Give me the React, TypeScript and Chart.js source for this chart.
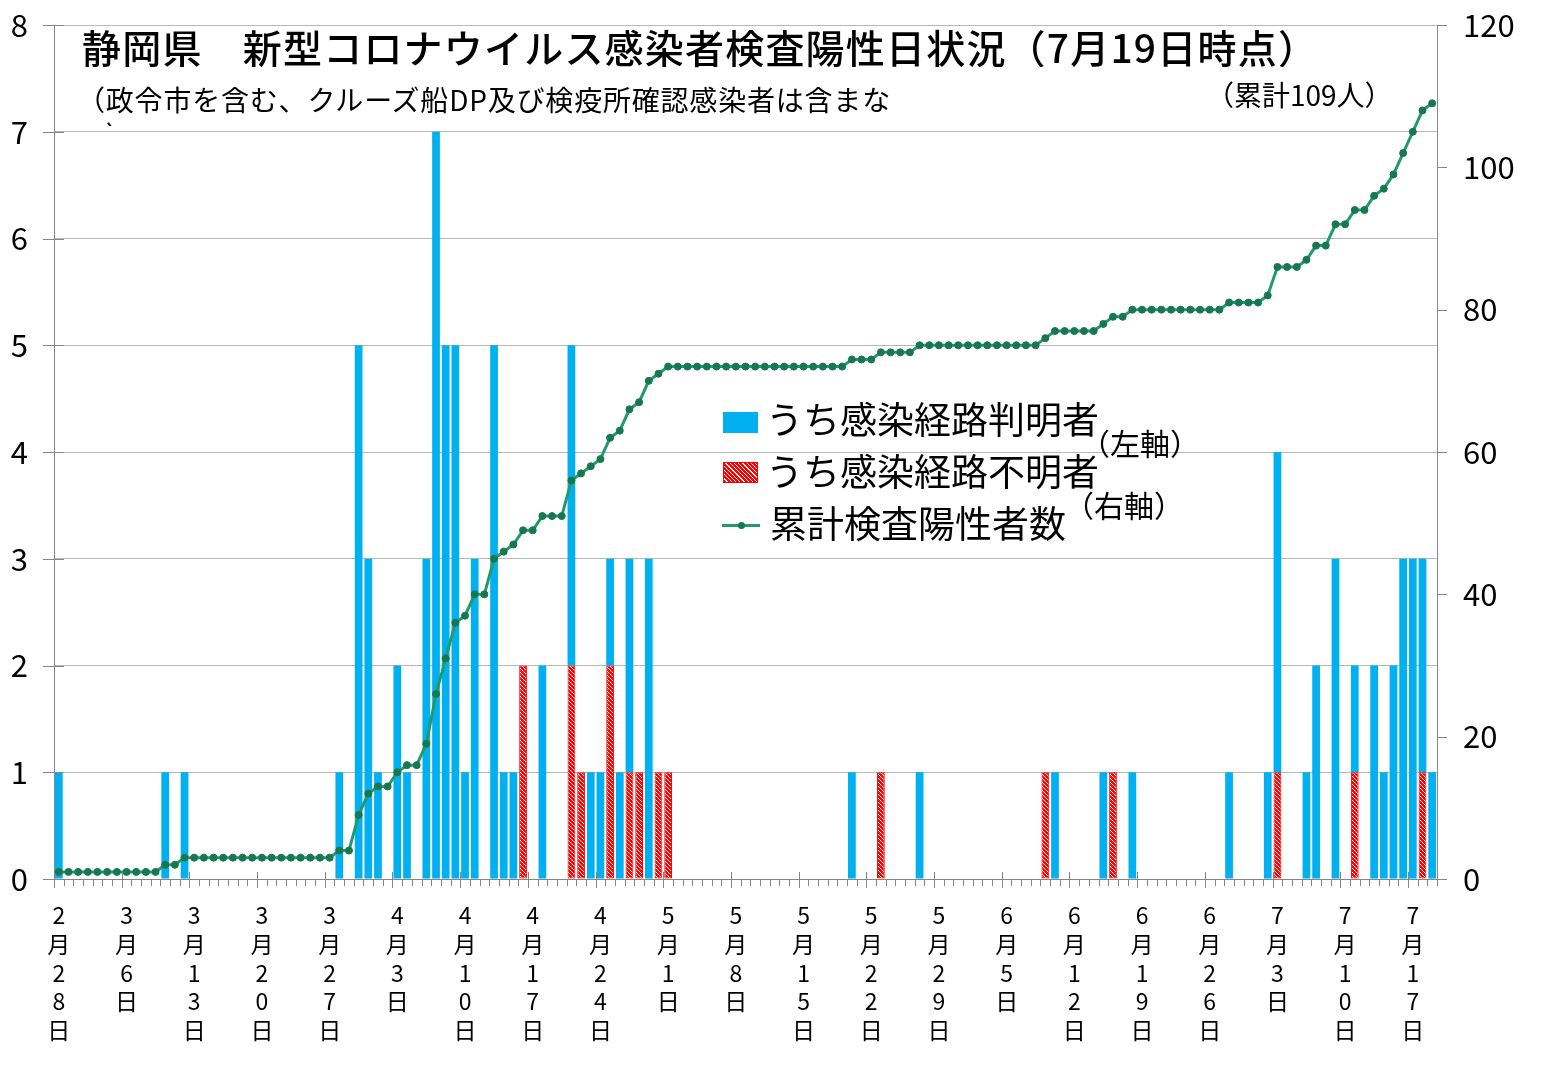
import { useEffect, useRef } from "react"
import Chart from "chart.js/auto"

// 日別陽性者数（月ごと、左軸）
const febKnown = [1, 0]
const febUnknown = [0, 0]
const marKnown = [0, 0, 0, 0, 0, 0, 0, 0, 0, 1, 0, 1, 0, 0, 0, 0, 0, 0, 0, 0, 0, 0, 0, 0, 0, 0, 0, 1, 0, 5, 3]
const marUnknown = [0, 0, 0, 0, 0, 0, 0, 0, 0, 0, 0, 0, 0, 0, 0, 0, 0, 0, 0, 0, 0, 0, 0, 0, 0, 0, 0, 0, 0, 0, 0]
const aprKnown = [1, 0, 2, 1, 0, 3, 7, 5, 5, 1, 3, 0, 5, 1, 1, 0, 0, 2, 0, 0, 3, 0, 1, 1, 1, 1, 2, 0, 3, 0]
const aprUnknown = [0, 0, 0, 0, 0, 0, 0, 0, 0, 0, 0, 0, 0, 0, 0, 2, 0, 0, 0, 0, 2, 1, 0, 0, 2, 0, 1, 1, 0, 1]
const mayKnown = [0, 0, 0, 0, 0, 0, 0, 0, 0, 0, 0, 0, 0, 0, 0, 0, 0, 0, 0, 1, 0, 0, 0, 0, 0, 0, 1, 0, 0, 0, 0]
const mayUnknown = [1, 0, 0, 0, 0, 0, 0, 0, 0, 0, 0, 0, 0, 0, 0, 0, 0, 0, 0, 0, 0, 0, 1, 0, 0, 0, 0, 0, 0, 0, 0]
const junKnown = [0, 0, 0, 0, 0, 0, 0, 0, 0, 1, 0, 0, 0, 0, 1, 0, 0, 1, 0, 0, 0, 0, 0, 0, 0, 0, 0, 1, 0, 0]
const junUnknown = [0, 0, 0, 0, 0, 0, 0, 0, 1, 0, 0, 0, 0, 0, 0, 1, 0, 0, 0, 0, 0, 0, 0, 0, 0, 0, 0, 0, 0, 0]
const julKnown = [0, 1, 3, 0, 0, 1, 2, 0, 3, 0, 1, 0, 2, 1, 2, 3, 3, 2, 1]
const julUnknown = [0, 0, 1, 0, 0, 0, 0, 0, 0, 0, 1, 0, 0, 0, 0, 0, 0, 1, 0]

// 累計検査陽性者数（右軸）
const febTotal = [1, 1]
const marTotal = [1, 1, 1, 1, 1, 1, 1, 1, 1, 2, 2, 3, 3, 3, 3, 3, 3, 3, 3, 3, 3, 3, 3, 3, 3, 3, 3, 4, 4, 9, 12]
const aprTotal = [13, 13, 15, 16, 16, 19, 26, 31, 36, 37, 40, 40, 45, 46, 47, 49, 49, 51, 51, 51, 56, 57, 58, 59, 62, 63, 66, 67, 70, 71]
const mayTotal = [72, 72, 72, 72, 72, 72, 72, 72, 72, 72, 72, 72, 72, 72, 72, 72, 72, 72, 72, 73, 73, 73, 74, 74, 74, 74, 75, 75, 75, 75, 75]
const junTotal = [75, 75, 75, 75, 75, 75, 75, 75, 76, 77, 77, 77, 77, 77, 78, 79, 79, 80, 80, 80, 80, 80, 80, 80, 80, 80, 80, 81, 81, 81]
const julTotal = [81, 82, 86, 86, 86, 87, 89, 89, 92, 92, 94, 94, 96, 97, 99, 102, 105, 108, 109]

// [月, 初日, 末日]
const monthRanges = [
  [2, 28, 29],
  [3, 1, 31],
  [4, 1, 30],
  [5, 1, 31],
  [6, 1, 30],
  [7, 1, 19],
]

const tickDates = [
  "2月28日", "3月6日", "3月13日", "3月20日", "3月27日", "4月3日", "4月10日",
  "4月17日", "4月24日", "5月1日", "5月8日", "5月15日", "5月22日", "5月29日",
  "6月5日", "6月12日", "6月19日", "6月26日", "7月3日", "7月10日", "7月17日",
]

const categories = monthRanges.flatMap(([m, from, to]) => {
  const days: string[] = []
  for (let d = from; d <= to; d++) days.push(`${m}月${d}日`)
  return days
})

const known = [...febKnown, ...marKnown, ...aprKnown, ...mayKnown, ...junKnown, ...julKnown]
const unknown = [...febUnknown, ...marUnknown, ...aprUnknown, ...mayUnknown, ...junUnknown, ...julUnknown]
const total = [...febTotal, ...marTotal, ...aprTotal, ...mayTotal, ...junTotal, ...julTotal]

const BLUE = "#00b0f0"
const RED = "#ff0000"
const LINE = "#229a6b"
const MARKER = "#17774f"
const AXIS = "#868686"
const GRID = "#b8b8b8"
const FONT = "'Noto Sans CJK JP', 'Noto Sans', sans-serif"

const W = 1568
const H = 1075
const PLOT = { left: 54, right: 1437, top: 25, bottom: 879 }

function makeHatch() {
  const c = document.createElement("canvas")
  c.width = 4
  c.height = 4
  const g = c.getContext("2d")!
  g.fillStyle = RED
  g.fillRect(0, 0, 4, 4)
  g.strokeStyle = "#ffffff"
  g.lineWidth = 1
  g.beginPath()
  g.moveTo(0, 0)
  g.lineTo(4, 4)
  g.moveTo(-1, 3)
  g.lineTo(1, 5)
  g.moveTo(3, -1)
  g.lineTo(5, 1)
  g.stroke()
  return g.createPattern(c, "repeat")!
}

// 目盛り線（日ごとの短い線・週ごとの長い線・左右軸の線）
const tickMarks = {
  id: "tickMarks",
  afterDraw(chart: any) {
    const { ctx, chartArea, scales } = chart
    const x = scales.x
    const n = categories.length
    const step = (x.right - x.left) / n
    ctx.save()
    ctx.strokeStyle = AXIS
    ctx.lineWidth = 1
    ctx.beginPath()
    for (let i = 0; i <= n; i++) {
      const px = Math.round(x.left + i * step) + 0.5
      const major = i < n && tickDates.includes(categories[i])
      ctx.moveTo(px, chartArea.bottom - (major ? 7 : 0))
      ctx.lineTo(px, chartArea.bottom + (major ? 9 : 7))
    }
    scales.y.ticks.forEach((_: unknown, i: number) => {
      const py = Math.round(scales.y.getPixelForTick(i)) + 0.5
      ctx.moveTo(chartArea.left - 11, py)
      ctx.lineTo(chartArea.left + 10, py)
    })
    scales.y1.ticks.forEach((_: unknown, i: number) => {
      const py = Math.round(scales.y1.getPixelForTick(i)) + 0.5
      ctx.moveTo(chartArea.right, py)
      ctx.lineTo(chartArea.right + 10, py)
    })
    ctx.stroke()
    ctx.restore()
  },
}

function Label({ x, cy, size, weight, children, style }: any) {
  return (
    <div
      style={{
        position: "absolute",
        left: x,
        top: cy - size * 0.55,
        fontSize: size,
        lineHeight: 1,
        fontFamily: FONT,
        fontWeight: weight || "normal",
        whiteSpace: "nowrap",
        color: "#000",
        ...style,
      }}
    >
      {children}
    </div>
  )
}

export default function App() {
  const chartRef = useRef<HTMLCanvasElement>(null)
  const chartInstance = useRef<Chart | null>(null)

  useEffect(() => {
    document.body.style.margin = "0"
    if (!chartRef.current) return
    if (chartInstance.current) chartInstance.current.destroy()
    const ctx = chartRef.current.getContext("2d")
    if (!ctx) return

    chartInstance.current = new Chart(ctx, {
      type: "bar",
      data: {
        labels: categories,
        datasets: [
          {
            type: "line",
            label: "累計検査陽性者数",
            data: total,
            yAxisID: "y1",
            borderColor: LINE,
            borderWidth: 3,
            pointRadius: 3.5,
            pointBackgroundColor: MARKER,
            pointBorderColor: MARKER,
            pointBorderWidth: 1,
            tension: 0,
            order: 0,
          },
          {
            label: "うち感染経路不明者",
            data: unknown,
            yAxisID: "y",
            backgroundColor: makeHatch(),
            borderColor: RED,
            borderWidth: 1,
            borderSkipped: false,
            barPercentage: 0.8,
            categoryPercentage: 1,
            order: 1,
          },
          {
            label: "うち感染経路判明者",
            data: known,
            yAxisID: "y",
            backgroundColor: BLUE,
            borderWidth: 0,
            barPercentage: 0.8,
            categoryPercentage: 1,
            order: 2,
          },
        ],
      } as any,
      options: {
        responsive: true,
        maintainAspectRatio: false,
        animation: false,
        layout: { padding: { top: PLOT.top, left: 0, right: 0, bottom: 0 } },
        plugins: {
          legend: { display: false },
          tooltip: { enabled: false },
        },
        scales: {
          x: {
            stacked: true,
            offset: true,
            grid: { display: false },
            border: { color: AXIS },
            afterFit: (scale: any) => {
              scale.height = H - PLOT.bottom
            },
            ticks: {
              autoSkip: false,
              maxRotation: 0,
              minRotation: 0,
              padding: 14,
              color: "#000",
              font: { family: FONT, size: 23, lineHeight: 1.25 },
              callback: (_v: any, i: number) =>
                tickDates.includes(categories[i]) ? categories[i].split("") : "",
            },
          },
          y: {
            stacked: true,
            position: "left",
            min: 0,
            max: 8,
            grid: { color: GRID, drawTicks: false },
            border: { color: AXIS },
            afterFit: (scale: any) => {
              scale.width = PLOT.left
              scale.paddingTop = 0
              scale.paddingBottom = 0
            },
            ticks: {
              stepSize: 1,
              padding: 26,
              color: "#000",
              font: { family: FONT, size: 31 },
            },
          },
          y1: {
            position: "right",
            min: 0,
            max: 120,
            grid: { display: false },
            border: { color: AXIS },
            afterFit: (scale: any) => {
              scale.width = W - PLOT.right
              scale.paddingTop = 0
              scale.paddingBottom = 0
            },
            ticks: {
              stepSize: 20,
              padding: 18,
              color: "#000",
              font: { family: FONT, size: 31 },
            },
          },
        },
      } as any,
      plugins: [tickMarks],
    })

    return () => {
      if (chartInstance.current) chartInstance.current.destroy()
    }
  }, [])

  return (
    <div style={{ position: "relative", width: W, height: H, background: "#fff" }}>
      <div style={{ position: "absolute", left: 0, top: 0, width: W, height: H }}>
        <canvas ref={chartRef} />
      </div>

      <Label x={82} cy={48} size={39} weight={500} style={{ letterSpacing: 1.2 }}>
        静岡県　新型コロナウイルス感染者検査陽性日状況（7月19日時点）
      </Label>
      <div
        style={{
          position: "absolute",
          left: 77,
          top: 81,
          width: 830,
          height: 45,
          overflow: "hidden",
          fontSize: 28,
          lineHeight: 1.3,
          letterSpacing: 0.8,
          fontFamily: FONT,
          color: "#000",
        }}
      >
        （政令市を含む、クルーズ船DP及び検疫所確認感染者は含まない）
      </div>
      <Label x={1206} cy={95} size={28}>
        （累計109人）
      </Label>

      {/* 凡例 */}
      <div style={{ position: "absolute", left: 723, top: 412, width: 35, height: 21, background: BLUE }} />
      <Label x={766} cy={420} size={37}>
        うち感染経路判明者
      </Label>
      <Label x={1080} cy={443} size={30}>
        （左軸）
      </Label>
      <div
        style={{
          position: "absolute",
          left: 723,
          top: 462,
          width: 33,
          height: 19,
          border: `1px solid ${RED}`,
          background: `repeating-linear-gradient(45deg, ${RED} 0px, ${RED} 2px, #fff 2px, #fff 3px)`,
        }}
      />
      <Label x={766} cy={472} size={37}>
        うち感染経路不明者
      </Label>
      <Label x={1064} cy={505} size={30}>
        （右軸）
      </Label>
      <div style={{ position: "absolute", left: 722, top: 524, width: 38, height: 3, background: LINE }} />
      <div
        style={{
          position: "absolute",
          left: 738,
          top: 522,
          width: 7,
          height: 7,
          borderRadius: "50%",
          background: MARKER,
        }}
      />
      <Label x={770} cy={524} size={37}>
        累計検査陽性者数
      </Label>
    </div>
  )
}
